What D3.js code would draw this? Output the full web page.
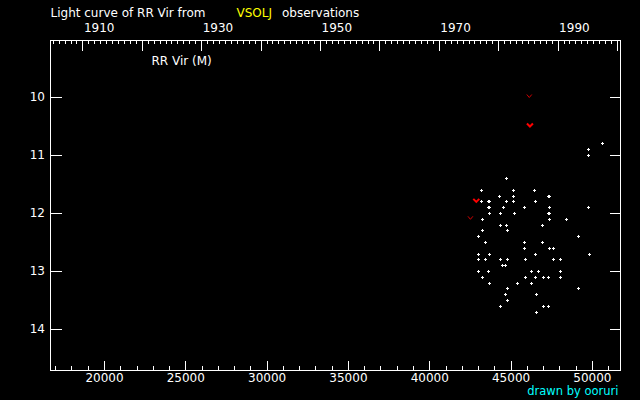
<!DOCTYPE html>
<html>
<head>
<meta charset="utf-8">
<script src="https://cdn.jsdelivr.net/npm/d3@7"></script>
<style>
  body { margin: 0; background: #000; }
  svg { display: block; }
</style>
</head>
<body>
<div id="chart"></div>
<script>
// Visual observations (JD - 2400000, magnitude)
var visJD = [
    50627, 49766, 49766, 44725,
    43187, 45156, 46447,
    44295, 45156, 47310, 47370,
    43187, 43620, 43680, 44725, 45156, 46509,
    43620, 43680, 44540, 45832, 47370, 49768,
    43679, 44356, 45217, 47310, 47370,
    43249, 47370, 48415,
    44356, 44725, 46939,
    43249, 44787,
    43003, 49153,
    43434, 45832, 46939,
    45832, 47370, 47616,
    43003, 43679, 46509, 49830,
    43003, 43434, 44356, 44787, 45894, 47616, 48046,
    44479, 44664,
    43003, 43618, 46263, 46693, 48046,
    43249, 45894, 46509, 47001, 47308, 48046,
    43679, 45402, 46263,
    44787, 49153,
    44664, 46570,
    44787,
    44356, 47001, 47308,
    46570
];
var visMag = [
    10.8, 10.9, 11.0, 11.4,
    11.6, 11.6, 11.6,
    11.7, 11.7, 11.7, 11.7,
    11.8, 11.8, 11.8, 11.8, 11.8, 11.8,
    11.9, 11.9, 11.9, 11.9, 11.9, 11.9,
    12.0, 12.0, 12.0, 12.0, 12.0,
    12.1, 12.1, 12.1,
    12.2, 12.2, 12.2,
    12.3, 12.3,
    12.4, 12.4,
    12.5, 12.5, 12.5,
    12.6, 12.6, 12.6,
    12.7, 12.7, 12.7, 12.7,
    12.8, 12.8, 12.8, 12.8, 12.8, 12.8, 12.8,
    12.9, 12.9,
    13.0, 13.0, 13.0, 13.0, 13.0,
    13.1, 13.1, 13.1, 13.1, 13.1, 13.1,
    13.2, 13.2, 13.2,
    13.3, 13.3,
    13.4, 13.4,
    13.5,
    13.6, 13.6, 13.6,
    13.7
];

// red "v" marks (bold and thin)
var redJD = [46160, 42860];
var redMag = [10.5, 11.8];
var thinJD = [46120, 42500];
var thinMag = [10.0, 12.1];

// axes
var jdMajor = d3.range(20000, 50001, 5000);
var jdMinor = d3.range(17000, 51001, 1000);
var magTicks = [10, 11, 12, 13, 14];
var years = d3.range(1905, 2001);
var yearLabels = [1910, 1930, 1950, 1970, 1990];

var jdDomain = [16680, 51728];
var magDomain = [9.017, 14.707];

function yearToJD(yr) { return 51544.5 + (yr - 2000) * 365.25; }

var font = "DejaVu Sans, sans-serif";

var svg = d3.select("#chart").append("svg")
    .attr("width", 640)
    .attr("height", 400)
    .style("background", "#000")
    .attr("shape-rendering", "crispEdges");

var x = d3.scaleLinear().domain(jdDomain).range([50.5, 620.5]);
var y = d3.scaleLinear().domain(magDomain).range([40.5, 370.5]);

function styleAxis(g) {
    g.select(".domain").remove();
    g.selectAll("line").attr("stroke", "#fff");
    g.selectAll("text")
        .attr("fill", "#fff")
        .attr("font-family", font)
        .attr("font-size", 12);
}

// bottom axis: JD
svg.append("g")
    .attr("transform", "translate(0," + y.range()[1] + ")")
    .call(d3.axisBottom(x).tickValues(jdMinor).tickSize(-5).tickFormat("").offset(0))
    .call(styleAxis);
svg.append("g")
    .attr("transform", "translate(0," + y.range()[1] + ")")
    .call(d3.axisBottom(x).tickValues(jdMajor).tickSize(-10).tickPadding(3).tickFormat(d3.format("d")).offset(0))
    .call(styleAxis);

// top axis: years
svg.append("g")
    .attr("transform", "translate(0," + y.range()[0] + ")")
    .call(d3.axisTop(x).tickValues(years.map(yearToJD)).tickSize(-3.5).tickFormat("").offset(0))
    .call(styleAxis);
var topMajor = svg.append("g")
    .attr("transform", "translate(0," + y.range()[0] + ")")
    .call(d3.axisTop(x)
        .tickValues(years.filter(function(yr) { return yr % 10 === 0; }).map(yearToJD))
        .tickSize(-10).tickPadding(8.5)
        .tickFormat(function(d) {
            var yr = Math.round((d - 51544.5) / 365.25 + 2000);
            return yearLabels.indexOf(yr) >= 0 ? yr : "";
        })
        .offset(0))
    .call(styleAxis);
topMajor.selectAll("text").attr("text-anchor", "start").attr("x", 1);

// left and right axes: magnitude
svg.append("g")
    .attr("transform", "translate(" + x.range()[0] + ",0)")
    .call(d3.axisLeft(y).tickValues(magTicks).tickSize(-11).tickPadding(5.5).tickFormat(d3.format("d")).offset(0))
    .call(styleAxis);
svg.append("g")
    .attr("transform", "translate(" + x.range()[1] + ",0)")
    .call(d3.axisRight(y).tickValues(magTicks).tickSize(-11).tickFormat("").offset(0))
    .call(styleAxis);

// frame
svg.append("rect")
    .attr("x", x.range()[0])
    .attr("y", y.range()[0])
    .attr("width", x.range()[1] - x.range()[0])
    .attr("height", y.range()[1] - y.range()[0])
    .attr("fill", "none")
    .attr("stroke", "#fff");

// white crosses
var obs = d3.zip(visJD, visMag);
svg.selectAll(".obs")
    .data(obs)
    .enter().append("path")
    .attr("class", "obs")
    .attr("d", function(d) {
        var cx = Math.floor(x(d[0])), cy = Math.floor(y(d[1]));
        return "M" + (cx - 1) + "," + (cy + 0.5) + "h3M" + (cx + 0.5) + "," + (cy - 1) + "v3";
    })
    .attr("fill", "none")
    .attr("stroke", "#fff");

// red v marks
svg.selectAll(".red")
    .data(d3.zip(redJD, redMag))
    .enter().append("path")
    .attr("class", "red")
    .attr("transform", function(d) { return "translate(" + x(d[0]) + "," + y(d[1]) + ")"; })
    .attr("d", "M-3,-3L0,0L3,-3")
    .attr("fill", "none")
    .attr("stroke", "#ff0000")
    .attr("stroke-width", 2)
    .attr("shape-rendering", "auto");

svg.selectAll(".thin")
    .data(d3.zip(thinJD, thinMag))
    .enter().append("path")
    .attr("class", "thin")
    .attr("transform", function(d) { return "translate(" + x(d[0]) + "," + y(d[1]) + ")"; })
    .attr("d", "M-2.5,-3L0,0L2.5,-3")
    .attr("fill", "none")
    .attr("stroke", "#d00000")
    .attr("stroke-width", 1)
    .attr("shape-rendering", "auto");

// texts
function label(tx, ty, str, color, anchor, size) {
    svg.append("text")
        .attr("x", tx).attr("y", ty)
        .attr("fill", color)
        .attr("font-family", font)
        .attr("font-size", size || 12)
        .attr("text-anchor", anchor || "start")
        .text(str);
}
label(50.5, 17, "Light curve of RR Vir from", "#fff");
label(236.5, 17, "VSOLJ", "#ffff00");
label(282, 17, "observations", "#fff");
label(151.5, 64.5, "RR Vir (M)", "#fff");
label(618.5, 395, "drawn by ooruri", "#00ffff", "end", 11.5);
</script>
</body>
</html>
